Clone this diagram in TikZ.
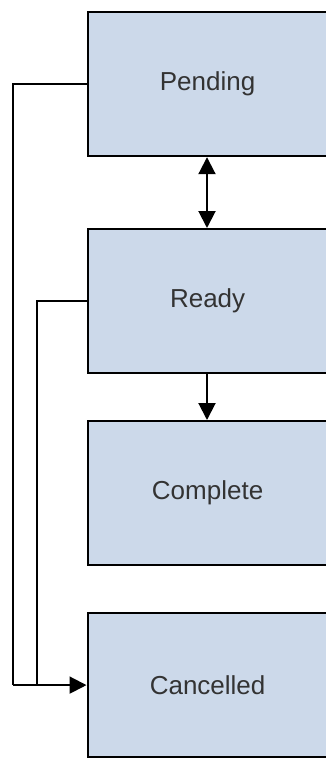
\documentclass[tikz,border=0pt]{standalone}
\usepackage{fontspec}
\setmainfont{Liberation Sans}
\usetikzlibrary{arrows.meta}
\definecolor{boxfill}{HTML}{CCD9EA}
\definecolor{txt}{HTML}{333333}
\begin{document}
\begin{tikzpicture}[x=1pt,y=-1pt,
  state/.style={draw=black,line width=2.2pt,fill=boxfill,minimum width=240pt,minimum height=144pt,
    inner sep=0pt,anchor=north west,text=txt,font=\fontsize{26}{30}\selectfont},
  tip/.tip={Triangle[length=17pt,width=17pt]},
  conn/.style={line width=2pt,-tip},
  line/.style={line width=2pt}]
\useasboundingbox (0,0) rectangle (325,758);
\node[state] (pending) at (86.5,11) {Pending};
\node[state] (ready) at (86.5,228) {Ready};
\node[state] (complete) at (86.5,420) {Complete};
\node[state] (cancelled) at (86.5,612) {Cancelled};
\coordinate (top) at (207,0);
\draw[line width=2pt,tip-tip] (pending.south -| top) -- (ready.north -| top);
\draw[conn] (ready.south -| top) -- (complete.north -| top);
\coordinate (outer) at (13,0);
\coordinate (inner) at (37,0);
\draw[line] (pending.west) -- (pending.west -| outer) -- (cancelled.west -| outer);
\draw[line] (ready.west) -- (ready.west -| inner) -- (cancelled.west -| inner);
\draw[conn] (cancelled.west -| outer) -- (cancelled.west);
\end{tikzpicture}
\end{document}
